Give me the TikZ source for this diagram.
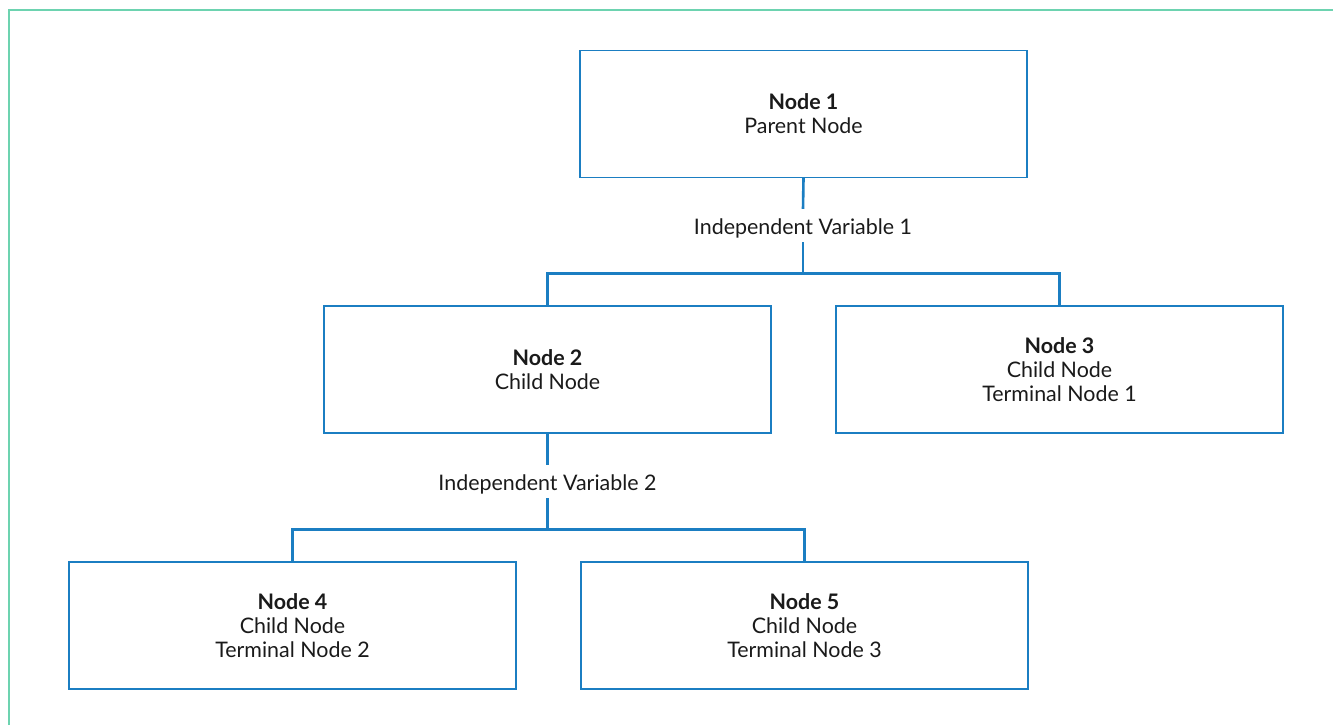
\documentclass[tikz,border=0pt]{standalone}
\usepackage{fontspec}
\setmainfont{Lato}
\definecolor{boxblue}{HTML}{1B7EC2}
\definecolor{framegreen}{HTML}{6DD3B0}
\definecolor{txt}{HTML}{1A1A1A}
\begin{document}
\begin{tikzpicture}[x=1bp,y=-1bp,
  treebox/.style={draw=boxblue,line width=1.4bp,minimum width=447bp,minimum height=127bp,
    align=center,inner sep=0pt,font=\fontsize{21.5}{24}\selectfont,text=txt},
  varlabel/.style={anchor=base,inner xsep=2bp,inner ysep=6bp,text height=19.5bp,text depth=1.5bp,
    font=\fontsize{21.5}{24}\selectfont,text=txt},
  conn/.style={draw=boxblue,line width=2.6bp}]
\useasboundingbox (0,0) rectangle (1333,725);
\draw[framegreen,line width=2bp] (8.5,725) -- (8.5,10.5) -- (1333,10.5);
\node[treebox] (n1) at (803.5,114) {\textbf{Node 1}\\Parent Node};
\node[treebox] (n2) at (547.5,369.5) {\textbf{Node 2}\\Child Node};
\node[treebox] (n3) at (1059.5,369.5) {\textbf{Node 3}\\Child Node\\Terminal Node 1};
\node[treebox] (n4) at (292.5,625.5) {\textbf{Node 4}\\Child Node\\Terminal Node 2};
\node[treebox] (n5) at (804.5,625.5) {\textbf{Node 5}\\Child Node\\Terminal Node 3};
\node[varlabel] (l1) at (803,234.5) {Independent Variable 1};
\node[varlabel] (l2) at (547.5,490.5) {Independent Variable 2};
\coordinate (j1) at (803,273.5);
\coordinate (j2) at (547.5,529.5);
\draw[conn] (n1.south) -- (l1.north);
\draw[conn] (l1.south) -- (j1);
\draw[conn] (j1) -| (n2.north);
\draw[conn] (j1) -| (n3.north);
\draw[conn] (n2.south) -- (l2.north);
\draw[conn] (l2.south) -- (j2);
\draw[conn] (j2) -| (n4.north);
\draw[conn] (j2) -| (n5.north);
\end{tikzpicture}
\end{document}
